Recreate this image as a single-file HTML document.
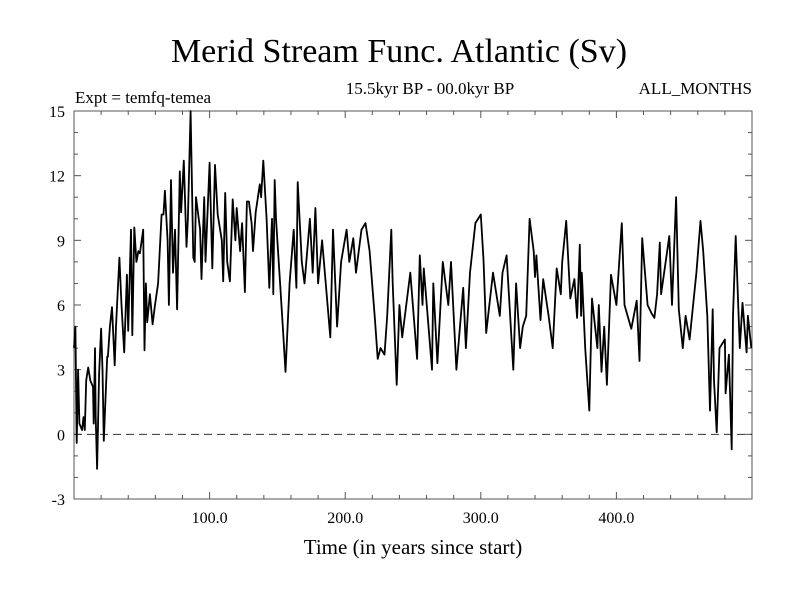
<!DOCTYPE html>
<html><head><meta charset="utf-8"><style>
html,body{margin:0;padding:0;background:#fff;}
svg{display:block;font-family:"Liberation Serif",serif;}
</style></head><body>
<svg id="chart" width="800" height="600" viewBox="0 0 800 600" xmlns="http://www.w3.org/2000/svg">
<text x="399" y="62" font-size="34" text-anchor="middle">Merid Stream Func. Atlantic (Sv)</text>
<text x="75" y="103" font-size="17">Expt = temfq-temea</text>
<text x="430" y="94" font-size="17" text-anchor="middle">15.5kyr BP - 00.0kyr BP</text>
<text x="752" y="94" font-size="17" text-anchor="end">ALL_MONTHS</text>
<g id="axes"></g>
<g id="plot"></g>
<text x="413" y="554" font-size="21" text-anchor="middle">Time (in years since start)</text>
</svg>
<script>
const years=[0,1,2,3,4,6,7,8,9,10.5,12,14,14.5,15.5,16,17,18.5,20,21,22,24.5,25,26.5,28,30,31,33.5,35,37,39,40,42,43,44.5,46,47.5,48.6,51,52,53,54,56,58,59.5,62,64.6,66,67,69,70,71.5,73,74.5,76,78,79,81,83,84,86,88,89,90,93,94,96,97,100,102,104,106,109,110,111.5,113,115,117,119,120,122.5,124,126,127.5,129,131,132,134,137,138,139.6,142,144,146,147,148,149,152,154,156,159,162,164,165,168,170,174,176,178,180,183,189,191,194,197,201,203,206,208,212,215,218,222,224,226,229,231,234,235,238,240,242,248,253,255,257,258,264,265,268,272,276,278,282,287,289,292,296,300,302,304,309,314,316,319,324,326,329,331,333.5,336,339,340,341,344,346,350,353,356,359,360,363,366,369,371,373,374,374.5,377,380,382,386,387,389,391,393,396,400,404,406,411,415,417,419,423,426,428,430,432,433,439,441,444,446,449,451,454,459,462,464,467,469,471,472,474,476,480,480.5,483,485,486,488,491,493,496,497,499.5];
const values=[4,5,-0.4,3,0.5,0.2,0.8,0.2,2.5,3.1,2.5,2.2,0.5,4,0.8,-1.6,2.8,4.9,3,-0.3,3.6,3.6,5,5.9,3.2,5,8.2,6,3.8,7.4,4.8,9.5,4.6,9.6,8,8.5,8.4,9.5,3.9,7,5.2,6.5,5.1,5.9,7,10.2,10.2,11.3,9,6,11.8,7.5,9.5,5.8,12.2,10.3,12.7,8.7,10,15,8.2,8,11,9.5,7.2,11,8,12.6,7.7,12.5,10.2,9,7.1,11.2,8,7.1,10.9,9,10.5,8.5,9.8,6.6,10.8,10.8,9.8,8.5,10.3,11.6,11,12.7,10,6.8,10,6.5,11.8,10,7,5,2.9,7,9.5,6.8,11.7,8,7,10,7.5,10.5,7,9,4.5,9.5,5,8,9.5,8,9.1,7.5,9.5,9.8,8.5,5.3,3.5,4,3.7,5.5,9.5,7,2.3,6,4.5,7.5,3.5,8.3,6,7.7,3,7,3.3,8,6,8,3,6.8,4,7.5,9.8,10.2,8.1,4.7,7.5,5.5,7.5,8.3,3,7,4,5,5.5,10,8.5,7.3,8.3,5.3,7.2,5.5,4,7.7,6.5,8,9.9,6.3,7.2,5.4,8.8,5.5,7.5,4,1.1,6.3,4,6,2.9,5,2.3,7.4,6,9.8,6,4.9,6.2,3.4,9.1,6,5.6,5.4,6.5,8.9,6.5,9.2,6,11,5.8,4,5.5,4.4,7.5,9.9,8.5,5.5,1.1,5.8,2.5,0.1,4,4.4,1.9,3.7,-0.7,5.5,9.2,4,6.1,3.8,5.5,4,2.7];
const xTicks=[100,200,300,400];
const xTickLabels=["100.0","200.0","300.0","400.0"];
const yTicks=[-3,0,3,6,9,12,15];
const yTickLabels=["-3","0","3","6","9","12","15"];
const X0=74,X1=752,Y0=111,Y1=499,xmin=0,xmax=500,ymin=-3,ymax=15;
const sx=v=>X0+(v-xmin)/(xmax-xmin)*(X1-X0);
const sy=v=>Y1-(v-ymin)/(ymax-ymin)*(Y1-Y0);
const NS="http://www.w3.org/2000/svg";
const axes=document.getElementById('axes'),plot=document.getElementById('plot');
function mk(tag,attrs,parent){const e=document.createElementNS(NS,tag);for(const k in attrs)e.setAttribute(k,attrs[k]);parent.appendChild(e);return e;}
const frame=mk('rect',{x:X0,y:Y0,width:X1-X0,height:Y1-Y0,fill:'none',stroke:'#555','stroke-width':1},axes);


for(let v=20;v<xmax;v+=20){const major=v%100===0;const L=major?7:4;
 const t1=mk('line',{x1:sx(v),x2:sx(v),y1:Y1,y2:Y1-L,stroke:'#555'},axes);
 
 
 const t2=mk('line',{x1:sx(v),x2:sx(v),y1:Y0,y2:Y0+L,stroke:'#555'},axes);
 
 }
for(let v=ymin+1;v<ymax;v+=1){const major=v%3===0;const L=major?7:4;
 const t1=mk('line',{x1:X0,x2:X0+L,y1:sy(v),y2:sy(v),stroke:'#555'},axes);
 
 
 const t2=mk('line',{x1:X1,x2:X1-L,y1:sy(v),y2:sy(v),stroke:'#555'},axes);
 
 }
xTicks.forEach((v,i)=>{const t=mk('text',{x:sx(v),y:Y1+24,'font-size':16,'text-anchor':'middle'},axes);t.textContent=xTickLabels[i];
 
 });
yTicks.forEach((v,i)=>{const t=mk('text',{x:X0-9,y:sy(v)+6,'font-size':16,'text-anchor':'end'},axes);t.textContent=yTickLabels[i];
 
 });
const zl=mk('line',{x1:X0,x2:X1,y1:sy(0),y2:sy(0),stroke:'#333','stroke-dasharray':'8,5'},plot);


const d=years.map((y,i)=>(i?'L':'M')+sx(y).toFixed(1)+','+sy(values[i]).toFixed(1)).join('');
const p=mk('path',{d:d,fill:'none',stroke:'#000','stroke-width':1.8,'stroke-linejoin':'round'},plot);


</script>
</body></html>
